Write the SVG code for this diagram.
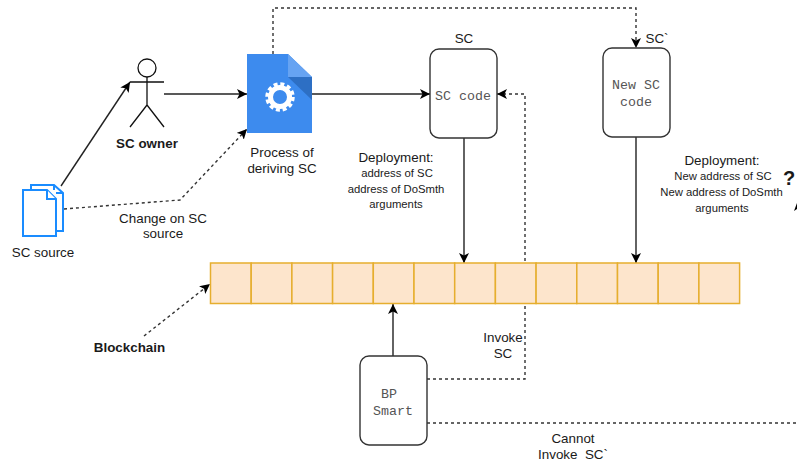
<svg xmlns="http://www.w3.org/2000/svg" width="797" height="463" viewBox="0 0 797 463">
<style>
text{font-family:"Liberation Sans",Arial,sans-serif;font-size:13.4px;fill:#1a1a1a;text-anchor:middle;white-space:pre}
.s{font-size:11.3px}
.b{font-weight:bold}
.m{font-family:"Liberation Mono","Courier New",monospace;font-size:13.3px;fill:#555}
.box{fill:#fff;stroke:#333;stroke-width:1.4}
.cell{fill:#fde5cc;stroke:#e6ae2e;stroke-width:1.5}
.c{fill:none;stroke:#222;stroke-width:1.4}
.d{fill:none;stroke:#333;stroke-width:1.4;stroke-dasharray:3 3}
.p{fill:#fff;stroke:#1a8cff;stroke-width:2}
</style>
<defs>
<marker id="a" markerUnits="userSpaceOnUse" markerWidth="12" markerHeight="12" refX="10" refY="5" orient="auto"><path d="M0 0L10 5L0 10L2.5 5Z" fill="#000"/></marker>
</defs>
<g id="connectors">
<path class="c" marker-end="url(#a)" d="M61 186L130 82"/>
<path class="c" marker-end="url(#a)" d="M164 94H247"/>
<path class="c" marker-end="url(#a)" d="M312 94H430"/>
<path class="d" marker-end="url(#a)" d="M64 209L180 200L247 129"/>
<path class="d" marker-end="url(#a)" d="M273 54V8H636V48"/>
<path class="c" marker-end="url(#a)" d="M464 138V263"/>
<path class="c" marker-end="url(#a)" d="M636 137V263"/>
<path class="c" marker-end="url(#a)" d="M393 356V304"/>
<path class="d" marker-end="url(#a)" d="M144 336L210 284"/>
<path class="d" marker-end="url(#a)" d="M427 379H525V94H497"/>
<path class="d" d="M427 423H797"/>
<path d="M797 203L794 211L797 209Z" fill="#000"/>
</g>
<g id="sc-source">
<path class="p" d="M31 185H54L63 193V231H31Z"/>
<path class="p" d="M23 190H47L56 199V236H23Z"/>
<path class="p" d="M47 190V199H56M54 185V190M56 193H63" fill="none"/>
<text x="43" y="257">SC source</text>
</g>
<g id="sc-owner">
<circle cx="147" cy="68" r="9" fill="#fff" stroke="#111" stroke-width="1.3"/>
<path d="M147 77V105M130 82H164M147 105L130 127M147 105L164 127" fill="none" stroke="#111" stroke-width="1.3"/>
<text class="b" x="147" y="148">SC owner</text>
</g>
<g id="process">
<path d="M247 54H288L312 77V133H247Z" fill="#3d8bee"/>
<path d="M288 54L312 77H288Z" fill="#66a3f2"/>
<path d="M288 77H312V100Z" fill="#2d6fc4"/>
<circle cx="280" cy="97" r="9.5" fill="none" stroke="#fff" stroke-width="5"/>
<circle cx="280" cy="97" r="13" fill="none" stroke="#fff" stroke-width="3.5" stroke-dasharray="4 2.8"/>
<text x="282" y="157">Process of</text>
<text x="282" y="173">deriving SC</text>
</g>
<g id="change-label">
<text x="163" y="223">Change on SC</text>
<text x="163" y="238">source</text>
</g>
<g id="sc">
<rect class="box" x="430" y="49" width="67" height="89" rx="9"/>
<text x="464" y="43">SC</text>
<text class="m" x="463" y="100">SC code</text>
<text x="396" y="162">Deployment:</text>
<text class="s" x="397" y="177">address of SC</text>
<text class="s" x="396" y="193">address of DoSmth</text>
<text class="s" x="396" y="208">arguments</text>
</g>
<g id="new-sc">
<rect class="box" x="603" y="48" width="67" height="89" rx="9"/>
<text x="657" y="43">SC`</text>
<text class="m" x="636" y="89">New SC</text>
<text class="m" x="636" y="106">code</text>
<text x="722" y="165">Deployment:</text>
<text class="s" x="723" y="180">New address of SC</text>
<text class="s" x="721.5" y="196">New address of DoSmth</text>
<text class="s" x="722" y="212">arguments</text>
<text class="b" x="789" y="185" style="font-size:20px">?</text>
</g>
<g id="blockchain">
<rect class="cell" x="210.5" y="263" width="40.7" height="40.5"/>
<rect class="cell" x="251.2" y="263" width="40.7" height="40.5"/>
<rect class="cell" x="291.9" y="263" width="40.7" height="40.5"/>
<rect class="cell" x="332.6" y="263" width="40.7" height="40.5"/>
<rect class="cell" x="373.3" y="263" width="40.7" height="40.5"/>
<rect class="cell" x="414" y="263" width="40.7" height="40.5"/>
<rect class="cell" x="454.7" y="263" width="40.7" height="40.5"/>
<rect class="cell" x="495.4" y="263" width="40.7" height="40.5"/>
<rect class="cell" x="536.1" y="263" width="40.7" height="40.5"/>
<rect class="cell" x="576.8" y="263" width="40.7" height="40.5"/>
<rect class="cell" x="617.5" y="263" width="40.7" height="40.5"/>
<rect class="cell" x="658.2" y="263" width="40.7" height="40.5"/>
<rect class="cell" x="698.9" y="263" width="40.7" height="40.5"/>
<text class="b" x="129.5" y="352">Blockchain</text>
</g>
<g id="bp-smart">
<rect class="box" x="360" y="356" width="67" height="89" rx="9"/>
<text class="m" x="389" y="398">BP</text>
<text class="m" x="393" y="415">Smart</text>
<text x="503" y="342">Invoke</text>
<text x="503" y="358">SC</text>
<text x="573" y="443">Cannot</text>
<text x="573" y="459">Invoke  SC`</text>
</g>
</svg>
